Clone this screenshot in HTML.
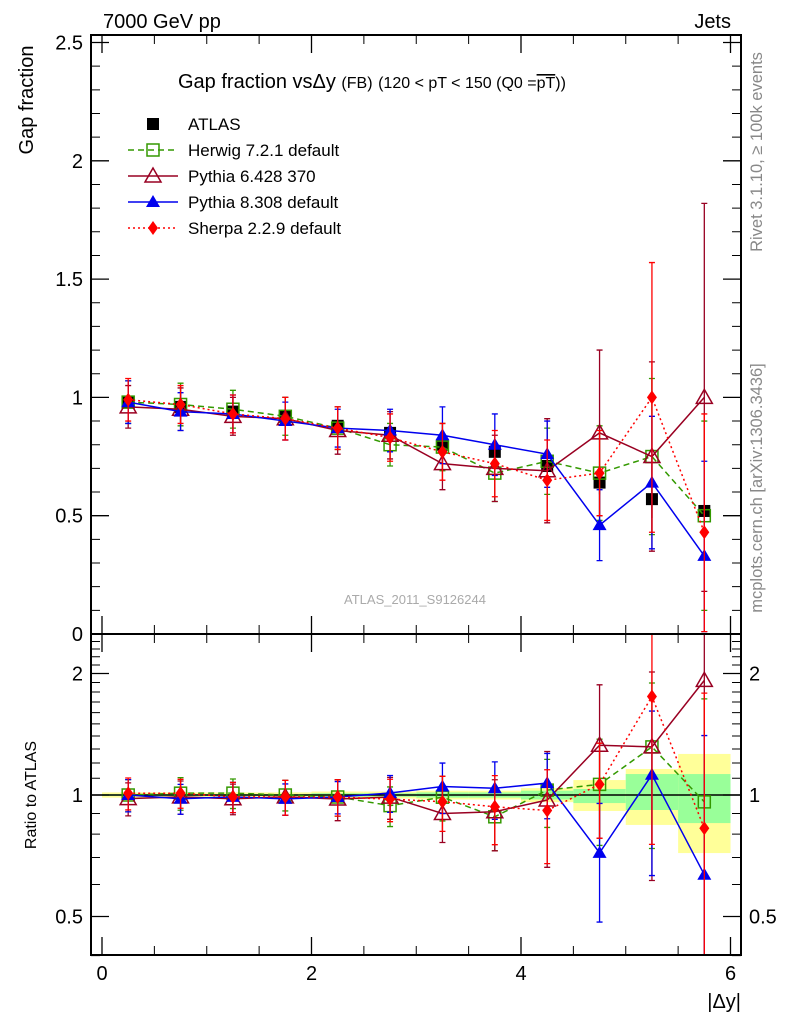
<!DOCTYPE html>
<html><head><meta charset="utf-8"><style>
html,body{margin:0;padding:0;background:#fff;overflow:hidden;width:786px;height:1024px;}
svg{display:block;font-family:"Liberation Sans",sans-serif;}
</style></head><body>
<svg id="c" width="786" height="1024" viewBox="0 0 786 1024" xmlns="http://www.w3.org/2000/svg">
<defs>
<clipPath id="cm"><rect x="91" y="35" width="650" height="599"/></clipPath>
<clipPath id="cr"><rect x="91" y="634" width="650" height="321"/></clipPath>
</defs>
<g id="bands" clip-path="url(#cr)"></g>
<g id="main" clip-path="url(#cm)"></g>
<g id="ratio" clip-path="url(#cr)"></g>
<g id="axes"></g>
<text x="103" y="28" font-size="20">7000 GeV pp</text>
<text x="731" y="28" font-size="20" text-anchor="end">Jets</text>
<text x="178" y="88" font-size="20">Gap fraction vsΔy <tspan font-size="16">(FB)</tspan> <tspan font-size="16">(120 &lt; pT &lt; 150 (Q0 =</tspan><tspan font-size="16" text-decoration="overline">pT</tspan><tspan font-size="16">))</tspan></text>
<text x="415" y="604" font-size="13" fill="#aaa" text-anchor="middle">ATLAS_2011_S9126244</text>
<text transform="translate(762,152) rotate(-90)" font-size="16.5" fill="#888" text-anchor="middle">Rivet 3.1.10, ≥ 100k events</text>
<text transform="translate(762,488) rotate(-90)" font-size="16.5" fill="#888" text-anchor="middle">mcplots.cern.ch [arXiv:1306.3436]</text>
<text transform="translate(33,100) rotate(-90)" font-size="20" text-anchor="middle">Gap fraction</text>
<text transform="translate(36,795) rotate(-90)" font-size="16" text-anchor="middle">Ratio to ATLAS</text>
<text x="741" y="1008" font-size="20" text-anchor="end">|Δy|</text>
<g id="legend"></g>
</svg>
<script>
const xs=[0.25,0.75,1.25,1.75,2.25,2.75,3.25,3.75,4.25,4.75,5.25,5.75];
const atlas=[0.98,0.96,0.94,0.92,0.88,0.85,0.80,0.77,0.71,0.64,0.57,0.52];
const atlasErr=[0.02,0.02,0.02,0.02,0.02,0.02,0.03,0.03,0.04,0.05,0.08,0.1];
const herwig=[0.98,0.97,0.95,0.92,0.87,0.80,0.79,0.68,0.73,0.68,0.75,0.50];
const herwigErr=[0.09,0.09,0.08,0.08,0.09,0.09,0.1,0.12,0.14,0.2,0.33,0.4];
const py6=[0.96,0.95,0.92,0.91,0.86,0.84,0.72,0.70,0.69,0.85,0.75,1.0];
const py6Err=[0.09,0.09,0.08,0.09,0.1,0.1,0.11,0.14,0.22,0.35,0.4,0.82];
const py8=[0.98,0.94,0.93,0.90,0.87,0.86,0.84,0.80,0.76,0.46,0.64,0.33];
const py8Err=[0.09,0.08,0.08,0.08,0.08,0.09,0.12,0.13,0.14,0.15,0.28,0.4];
const sherpa=[0.99,0.97,0.93,0.91,0.87,0.83,0.77,0.72,0.65,0.68,1.0,0.43];
const sherpaErr=[0.09,0.08,0.08,0.09,0.09,0.1,0.12,0.14,0.17,0.18,0.57,0.5];
const bandEdges=[0,0.5,1,1.5,2,2.5,3,3.5,4,4.5,5,5.5,6];
const yellowLo=[0.985,0.985,0.985,0.985,0.98,0.98,0.975,0.975,0.96,0.913,0.843,0.718];
const yellowHi=[1.015,1.015,1.015,1.015,1.02,1.02,1.025,1.025,1.04,1.089,1.16,1.264];
const greenLo=[0.995,0.995,0.995,0.995,0.99,0.99,0.985,0.985,0.975,0.955,0.918,0.852];
const greenHi=[1.005,1.005,1.005,1.005,1.01,1.01,1.015,1.015,1.025,1.035,1.127,1.127];
const yTicks=[0,0.5,1,1.5,2,2.5];
const yTickLabels=["0","0.5","1","1.5","2","2.5"];
const xTicks=[0,2,4,6];
const rTicks=[0.5,1,2];

const NS="http://www.w3.org/2000/svg";
const X=v=>102+v*104.75;
const Y=v=>634-v*236.6;
const R=v=>795-Math.log2(v)*121.5;
function mk(p,t,a){const e=document.createElementNS(NS,t);for(const k in a)e.setAttribute(k,a[k]);p.appendChild(e);return e;}
const gB=document.getElementById('bands'),gM=document.getElementById('main'),gR=document.getElementById('ratio'),gA=document.getElementById('axes'),gL=document.getElementById('legend');

for(let i=0;i<yellowLo.length;i++){
  let r=mk(gB,'rect',{x:X(bandEdges[i]),y:R(yellowHi[i]),width:X(bandEdges[i+1])-X(bandEdges[i]),height:R(yellowLo[i])-R(yellowHi[i]),fill:'#ffff99'});
  
  let g=mk(gB,'rect',{x:X(bandEdges[i]),y:R(greenHi[i]),width:X(bandEdges[i+1])-X(bandEdges[i]),height:R(greenLo[i])-R(greenHi[i]),fill:'#99ff99'});
  
}
let one=mk(gB,'line',{x1:91,x2:741,y1:R(1),y2:R(1),stroke:'#000','stroke-width':1.5});


function marker(g,type,color,cx,cy){
  let m;
  if(type==='sq')m=mk(g,'rect',{x:cx-6,y:cy-6,width:12,height:12,fill:'none',stroke:color,'stroke-width':1.5});
  else if(type==='fsq')m=mk(g,'rect',{x:cx-6,y:cy-6,width:12,height:12,fill:color});
  else if(type==='tri')m=mk(g,'polygon',{points:`${cx},${cy-8} ${cx-8},${cy+6} ${cx+8},${cy+6}`,fill:'none',stroke:color,'stroke-width':1.5});
  else if(type==='ftri')m=mk(g,'polygon',{points:`${cx},${cy-7} ${cx-7},${cy+5} ${cx+7},${cy+5}`,fill:color});
  else m=mk(g,'polygon',{points:`${cx},${cy-7} ${cx-5},${cy} ${cx},${cy+7} ${cx+5},${cy}`,fill:color});
  return m;
}
const series=[
 {name:'herwig',vals:herwig,err:herwigErr,color:'#339900',dash:'6,4',m:'sq',label:'Herwig 7.2.1 default'},
 {name:'pythia6',vals:py6,err:py6Err,color:'#990022',dash:'',m:'tri',label:'Pythia 6.428 370'},
 {name:'pythia8',vals:py8,err:py8Err,color:'#0000ee',dash:'',m:'ftri',label:'Pythia 8.308 default'},
 {name:'sherpa',vals:sherpa,err:sherpaErr,color:'#ff0000',dash:'2,3',m:'dia',label:'Sherpa 2.2.9 default'}
];
function drawSeries(g,vals,errs,S,s,panel){
  const pts=xs.map((x,i)=>X(x)+','+S(vals[i])).join(' ');
  let pl=mk(g,'polyline',{points:pts,fill:'none',stroke:s.color,'stroke-width':1.5,'stroke-dasharray':s.dash});
  
  xs.forEach((x,i)=>{
    const lo=Math.max(vals[i]-errs[i],0.01),hi=vals[i]+errs[i];
    let e=mk(g,'path',{d:`M${X(x)},${S(lo)}V${S(hi)}M${X(x)-3},${S(lo)}h6M${X(x)-3},${S(hi)}h6`,stroke:s.color,'stroke-width':1.3,fill:'none'});
    
    let m=marker(g,s.m,s.color,X(x),S(vals[i]));
    
  });
}
xs.forEach((x,i)=>{
  let e=mk(gM,'path',{d:`M${X(x)},${Y(atlas[i]-atlasErr[i])}V${Y(atlas[i]+atlasErr[i])}`,stroke:'#000','stroke-width':1.3});
  
  let m=marker(gM,'fsq','#000',X(x),Y(atlas[i]));
  
});
series.forEach(s=>{
  drawSeries(gM,s.vals,s.err,Y,s,'main');
  const rv=s.vals.map((v,i)=>v/atlas[i]);
  const re=s.err.map((e,i)=>e/atlas[i]);
  drawSeries(gR,rv,re,R,s,'ratio');
});
let f1=mk(gA,'rect',{x:91,y:35,width:650,height:599,fill:'none',stroke:'#000','stroke-width':2});

let f2=mk(gA,'rect',{x:91,y:634,width:650,height:321,fill:'none',stroke:'#000','stroke-width':2});

yTicks.forEach((v,i)=>{
  mk(gA,'path',{d:`M91,${Y(v)}h18M741,${Y(v)}h-18`,stroke:'#000','stroke-width':1.3});
  let t=mk(gA,'text',{x:83,y:Y(v)+7,'font-size':20,'text-anchor':'end'});t.textContent=yTickLabels[i];
  
  for(let k=1;k<5;k++){const vv=v+k*0.1;if(vv<2.58)mk(gA,'path',{d:`M91,${Y(vv)}h9M741,${Y(vv)}h-9`,stroke:'#000','stroke-width':1});}
});
rTicks.forEach(v=>{
  mk(gA,'path',{d:`M91,${R(v)}h18M741,${R(v)}h-18`,stroke:'#000','stroke-width':1.3});
  let t=mk(gA,'text',{x:83,y:R(v)+7,'font-size':20,'text-anchor':'end'});t.textContent=String(v);
  
  let t2=mk(gA,'text',{x:749,y:R(v)+7,'font-size':20});t2.textContent=String(v);
  
});
[0.4,0.6,0.7,0.8,0.9,1.1,1.2,1.3,1.4,1.5,1.6,1.7,1.8,1.9,2.1,2.2,2.3,2.4].forEach(v=>mk(gA,'path',{d:`M91,${R(v)}h9M741,${R(v)}h-9`,stroke:'#000','stroke-width':1}));
xTicks.forEach(v=>{
  mk(gA,'path',{d:`M${X(v)},955v-18M${X(v)},634v-18M${X(v)},634v18M${X(v)},35v18`,stroke:'#000','stroke-width':1.3});
  let t=mk(gA,'text',{x:X(v),y:980,'font-size':20,'text-anchor':'middle'});t.textContent=String(v);
  
});
for(let v=0.5;v<6.1;v+=0.5){if(v%2!==0)mk(gA,'path',{d:`M${X(v)},955v-9M${X(v)},634v-9M${X(v)},634v9M${X(v)},35v9`,stroke:'#000','stroke-width':1});}
const ly=[124,150,176,202,228];
let lm=marker(gL,'fsq','#000',153,ly[0]);


let lt=mk(gL,'text',{x:188,y:ly[0]+6,'font-size':17});lt.textContent='ATLAS';

series.forEach((s,i)=>{
  const y=ly[i+1];
  mk(gL,'line',{x1:128,x2:178,y1:y,y2:y,stroke:s.color,'stroke-width':1.5,'stroke-dasharray':s.dash});
  marker(gL,s.m,s.color,153,y);
  let t=mk(gL,'text',{x:188,y:y+6,'font-size':17});t.textContent=s.label;
  
});
</script>
</body></html>
